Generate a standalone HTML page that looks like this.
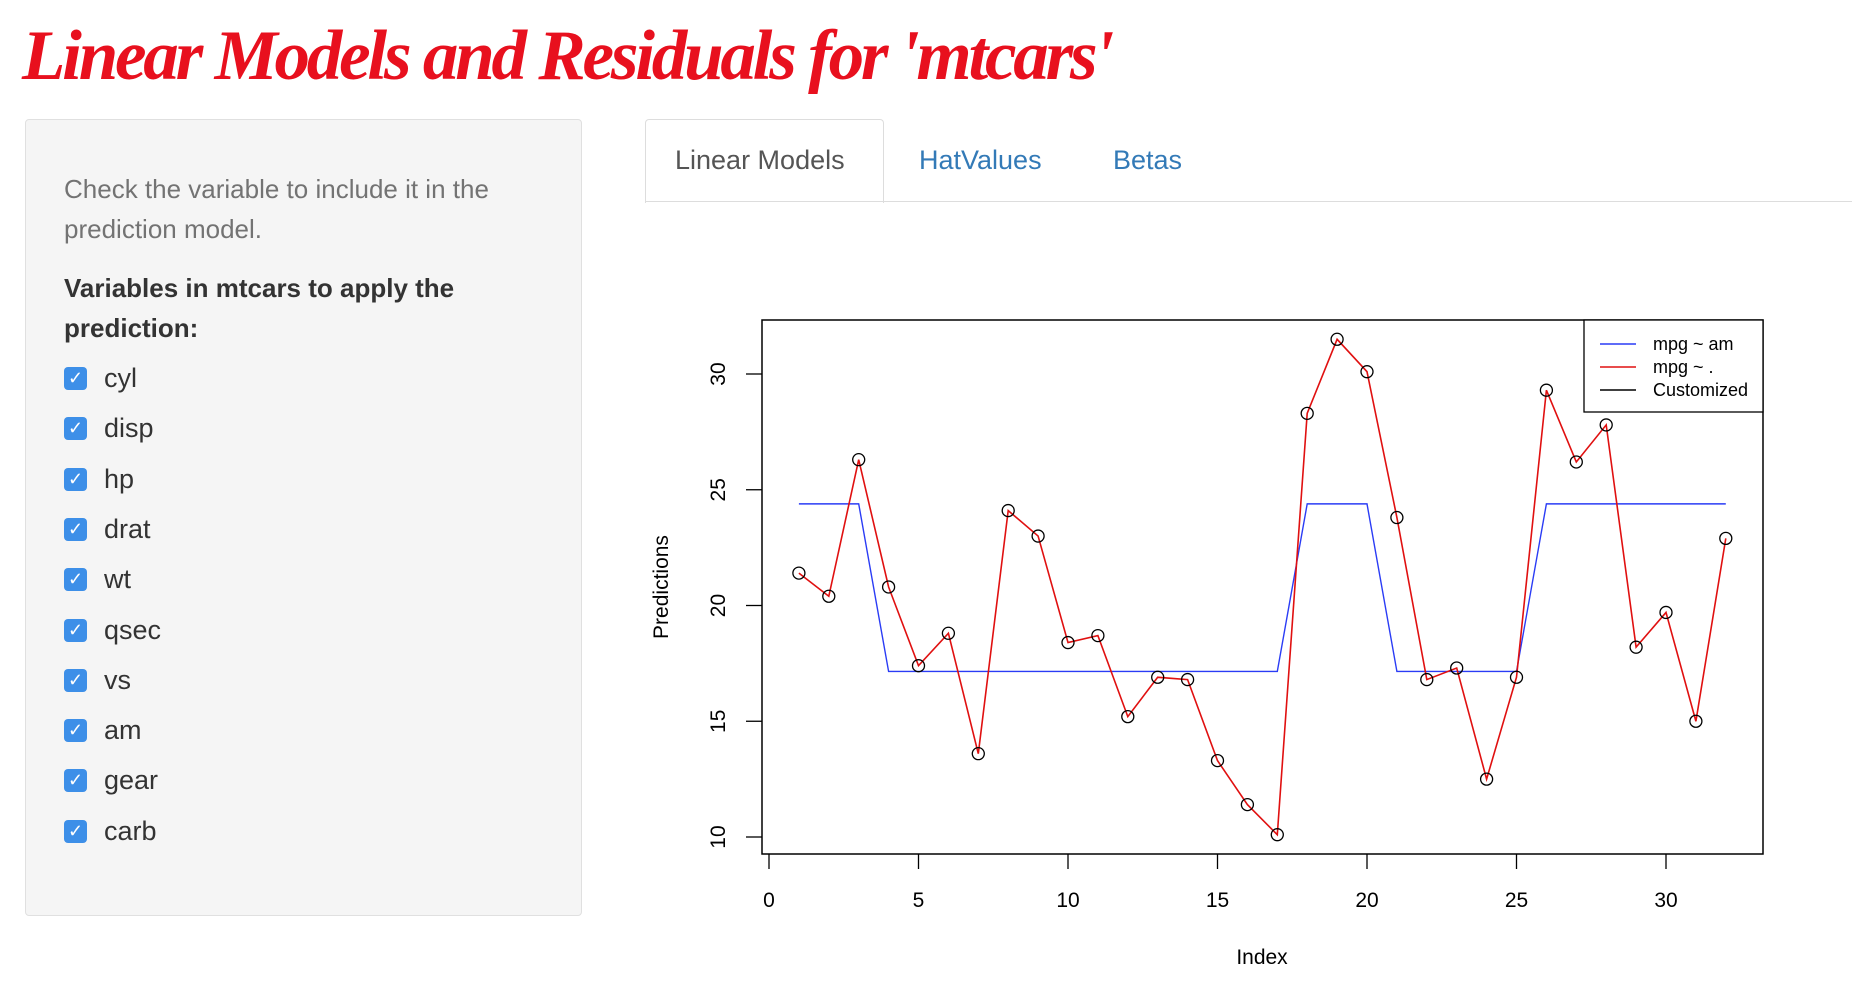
<!DOCTYPE html>
<html><head><meta charset="utf-8">
<style>
body{margin:0;width:1852px;height:992px;background:#fff;font-family:"Liberation Sans",sans-serif;position:relative;overflow:hidden}
.abs{position:absolute}
#title{left:22px;top:16px;font-family:"Liberation Serif",serif;font-style:italic;font-weight:bold;font-size:71px;color:#e8101e;letter-spacing:-3.2px;white-space:nowrap}
#panel{left:25px;top:119px;width:555px;height:795px;background:#f5f5f5;border:1px solid #e0e0e0;border-radius:4px}
.help{left:64px;font-size:26px;color:#737373}
.bold{left:64px;font-size:26px;font-weight:bold;color:#333}
.cb{left:64px;width:23px;height:23px;background:#3d8fe8;border-radius:4px;color:#fff;font-size:18px;line-height:23px;text-align:center}
.lbl{left:104px;font-size:27px;color:#333}
.tab{font-size:27px;color:#337ab7;top:145px}
</style></head><body>
<div id="title" class="abs">Linear Models and Residuals for 'mtcars'</div>
<div id="panel" class="abs"></div>
<div class="abs help" style="top:174px">Check the variable to include it in the</div>
<div class="abs help" style="top:214px">prediction model.</div>
<div class="abs bold" style="top:273px">Variables in mtcars to apply the</div>
<div class="abs bold" style="top:313px">prediction:</div>
<div id="cbs"></div>
<div class="abs" style="left:645px;top:119px;width:237px;height:83px;border:1px solid #ddd;border-bottom:none;background:#fff;border-radius:4px 4px 0 0"></div>
<div class="abs" style="left:645px;top:201px;width:1207px;height:1px;background:#ddd"></div>
<div class="abs tab" style="left:675px;color:#555">Linear Models</div>
<div class="abs tab" style="left:919px">HatValues</div>
<div class="abs tab" style="left:1113px">Betas</div>
<svg class="abs" style="left:0;top:0" width="1852" height="992" id="chart"></svg>
<script>
const vars=["cyl","disp","hp","drat","wt","qsec","vs","am","gear","carb"];
const cbs=document.getElementById('cbs');
vars.forEach((v,i)=>{
 const y=367+i*50.3;
 const b=document.createElement('div');b.className='abs cb';b.style.top=y+'px';b.textContent='✓';
 
 
 cbs.appendChild(b);
 const l=document.createElement('div');l.className='abs lbl';l.style.top=(y-4)+'px';l.textContent=v;
 
 
 cbs.appendChild(l);
});
</script>
<script>
const fullPred=[21.4,20.4,26.3,20.8,17.4,18.8,13.6,24.1,23.0,18.4,18.7,15.2,16.9,16.8,13.3,11.4,10.1,28.3,31.5,30.1,23.8,16.8,17.3,12.5,16.9,29.3,26.2,27.8,18.2,19.7,15.0,22.9];
const amPred=[24.39,24.39,24.39,17.15,17.15,17.15,17.15,17.15,17.15,17.15,17.15,17.15,17.15,17.15,17.15,17.15,17.15,24.39,24.39,24.39,17.15,17.15,17.15,17.15,17.15,24.39,24.39,24.39,24.39,24.39,24.39,24.39];
const xTicks=[0,5,10,15,20,25,30];
const yTicks=[10,15,20,25,30];
const legendLabels=["mpg ~ am","mpg ~ .","Customized"];
const legendColors=["#2a3cf5","#e01010","#000"];
const NS="http://www.w3.org/2000/svg";
const svg=document.getElementById('chart');
const X=v=>769+(v-0)*(1666-769)/30;
const Y=v=>837-(v-10)*(837-374)/20;
function el(t,a,txt){const e=document.createElementNS(NS,t);for(const k in a)e.setAttribute(k,a[k]);if(txt!=null)e.textContent=txt;svg.appendChild(e);return e;}
let e=el('rect',{x:762,y:320,width:1001,height:534,fill:'none',stroke:'#000','stroke-width':1.5});


xTicks.forEach(t=>{
 let a=el('line',{x1:X(t),x2:X(t),y1:854,y2:869,stroke:'#000','stroke-width':1.3});
 
 
 let b=el('text',{x:X(t),y:907,'text-anchor':'middle','font-size':21,'font-family':'Liberation Sans'},t);
 
 
});
yTicks.forEach(t=>{
 let a=el('line',{x1:746,x2:762,y1:Y(t),y2:Y(t),stroke:'#000','stroke-width':1.3});
 
 
 let b=el('text',{x:725,y:Y(t),'text-anchor':'middle','font-size':21,'font-family':'Liberation Sans',transform:`rotate(-90 725 ${Y(t)})`},t);
 
 
});
e=el('text',{x:668,y:587,'text-anchor':'middle','font-size':21,'font-family':'Liberation Sans',transform:'rotate(-90 668 587)'},'Predictions');


e=el('text',{x:1262,y:964,'text-anchor':'middle','font-size':21,'font-family':'Liberation Sans'},'Index');


e=el('polyline',{points:amPred.map((v,i)=>X(i+1)+','+Y(v)).join(' '),fill:'none',stroke:'#2a3cf5','stroke-width':1.4});


e=el('polyline',{points:fullPred.map((v,i)=>X(i+1)+','+Y(v)).join(' '),fill:'none',stroke:'#e01010','stroke-width':1.6});


fullPred.forEach((v,i)=>{
 let c=el('circle',{cx:X(i+1),cy:Y(v),r:6,fill:'none',stroke:'#000','stroke-width':1.3});
 
 
});
e=el('rect',{x:1584,y:320,width:179,height:92,fill:'#fff',stroke:'#000','stroke-width':1.3});


legendLabels.forEach((l,i)=>{
 const y=344+i*23;
 let a=el('line',{x1:1600,x2:1636,y1:y,y2:y,stroke:legendColors[i],'stroke-width':1.5});
 
 
 let b=el('text',{x:1653,y:y+6,'font-size':18,'font-family':'Liberation Sans'},l);
 
 
});
</script>
</body></html>
